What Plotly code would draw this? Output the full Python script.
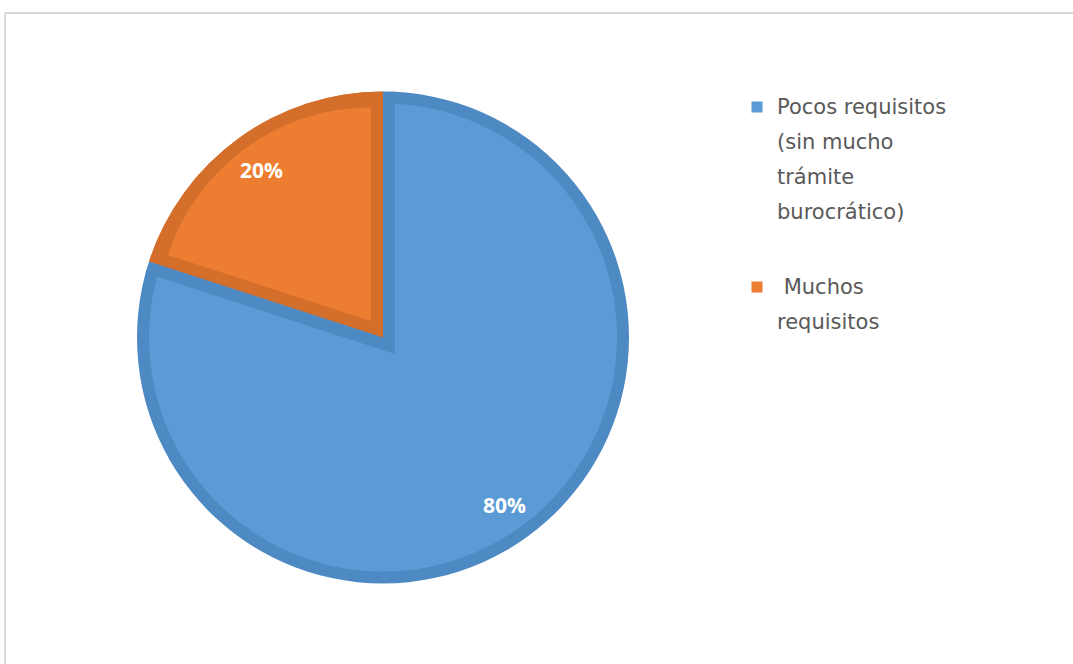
import math
import plotly.graph_objects as go

# Survey result: preference on paperwork requirements
categories = ["Pocos requisitos (sin mucho trámite burocrático)", "Muchos requisitos"]
values = [80, 20]
legend_lines = [
    ["Pocos requisitos", "(sin mucho", "trámite", "burocrático)"],
    [" Muchos", "requisitos"],
]

W, H = 1073, 664
FILL = ["#5B9BD5", "#ED7D31"]
EDGE = ["#4D89C2", "#D46F2B"]
CLEAR = "rgba(0,0,0,0)"

CX, CY = 383, 337.5   # pie centre (px)
R = 246               # outer radius (px)
B = 12                # inner border width (px)

total = sum(values)
# slice bisector angles, measured clockwise from 12 o'clock
start = 0.0
mids = []
for v in values:
    span = 360.0 * v / total
    mids.append(start + span / 2)
    start += span


def unit(deg):
    a = math.radians(deg)
    return math.sin(a), -math.cos(a)   # screen coords (y down)


def dom(cx, cy, r):
    return dict(x=[(cx - r) / W, (cx + r) / W], y=[(H - cy - r) / H, (H - cy + r) / H])


def layer(colors, cx, cy, r, name):
    return go.Pie(
        values=values, labels=categories, sort=False, direction="clockwise",
        rotation=0, marker=dict(colors=colors, line=dict(width=0)),
        textinfo="none", hoverinfo="skip", showlegend=False,
        domain=dom(cx, cy, r), name=name,
    )


half_small = math.radians(180.0 * values[1] / total)
d = B / math.sin(half_small)          # apex shift for an inset wedge
ux, uy = unit(mids[1])                # direction of the small slice

# radius of the widened wedge that forms the large slice's seam border
r_seam = (2 * d * math.cos(half_small) + math.sqrt((2 * d * math.cos(half_small)) ** 2 - 4 * (d * d - R * R))) / 2

fig = go.Figure()
# dark rims of both slices
fig.add_trace(layer(EDGE, CX, CY, R, "edge"))
# light body of the large slice
fig.add_trace(layer([FILL[0], CLEAR], CX, CY, R - B, "body0"))
# dark border of the large slice along the seams
fig.add_trace(layer([CLEAR, EDGE[0]], CX - ux * d, CY - uy * d, r_seam, "seam0"))
# dark rim of the small slice
fig.add_trace(layer([CLEAR, EDGE[1]], CX, CY, R, "edge1"))
# light body of the small slice, inset from every side
fig.add_trace(layer([CLEAR, FILL[1]], CX + ux * d, CY + uy * d, R - B - d, "body1"))

annotations = []
# percentage labels along each slice bisector
for v, m in zip(values, mids):
    vx, vy = unit(m)
    rr = 0.84 * R
    annotations.append(dict(
        x=(CX + vx * rr) / W, y=(H - (CY + vy * rr)) / H, xref="paper", yref="paper",
        text=f"{round(100 * v / total)}%", showarrow=False,
        font=dict(family="Open Sans", size=21, color="white", weight="bold"),
        xanchor="center", yanchor="middle",
    ))

# legend
shapes = []
LX, TX = 757, 775
line_h = 35
tops = [107, 287]
for i, (lines, y0) in enumerate(zip(legend_lines, tops)):
    shapes.append(dict(
        type="rect", xref="paper", yref="paper",
        x0=(LX - 5.5) / W, x1=(LX + 5.5) / W, y0=(H - y0 - 5.5) / H, y1=(H - y0 + 5.5) / H,
        fillcolor=FILL[i], line=dict(width=0),
    ))
    for k, t in enumerate(lines):
        yy = y0 + k * line_h
        annotations.append(dict(
            x=TX / W, y=(H - yy) / H, xref="paper", yref="paper", text=t,
            showarrow=False, xanchor="left", yanchor="middle",
            font=dict(family="DejaVu Sans", size=21, color="#595959"),
        ))

# chart frame
shapes.append(dict(type="line", xref="paper", yref="paper",
                   x0=5 / W, x1=1.0, y0=(H - 13) / H, y1=(H - 13) / H,
                   line=dict(color="#D9D9D9", width=2)))
shapes.append(dict(type="line", xref="paper", yref="paper",
                   x0=5 / W, x1=5 / W, y0=0, y1=(H - 13) / H,
                   line=dict(color="#D9D9D9", width=2)))

fig.update_layout(
    width=W, height=H, margin=dict(l=0, r=0, t=0, b=0),
    paper_bgcolor="white", plot_bgcolor="white",
    annotations=annotations, shapes=shapes, showlegend=False,
)

fig.write_html("out.html")
